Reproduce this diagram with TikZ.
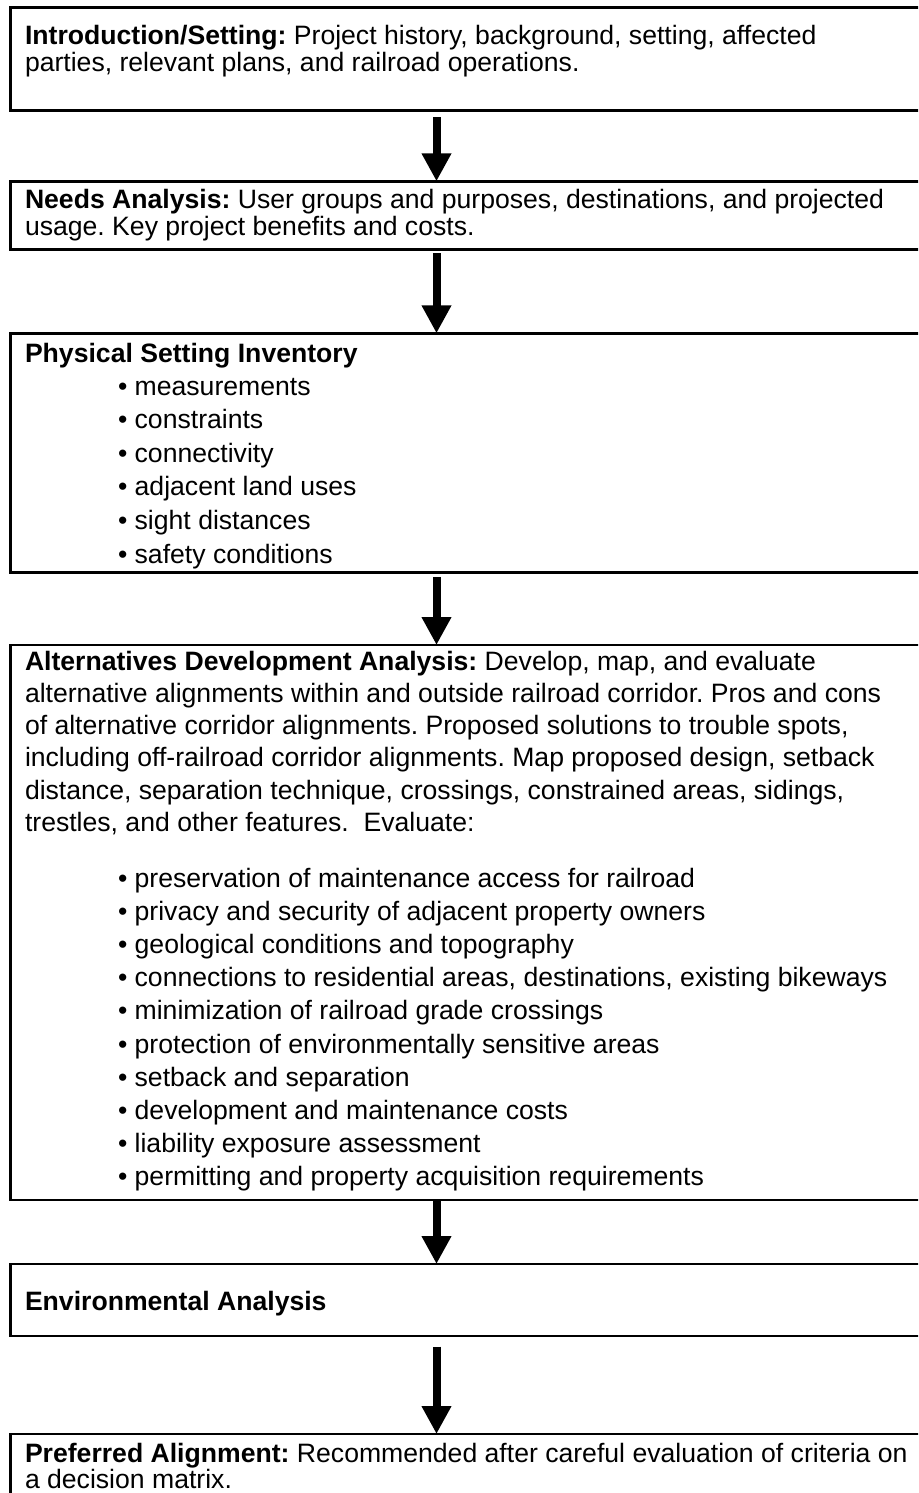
\documentclass[tikz,border=0pt]{standalone}
\usepackage{fontspec}
\setmainfont{Liberation Sans}
\usetikzlibrary{arrows.meta}
\frenchspacing
\newcommand{\firstln}{\rule{0pt}{22pt}}
\newcommand{\bul}{\textbullet\ }
\begin{document}
\begin{tikzpicture}[x=1pt,y=-1pt,
  boxshape/.style={draw, line width=2.5pt, rectangle, inner sep=0pt, outer sep=0pt,
    anchor=north west, minimum width=925pt},
  txt/.style={anchor=north west, inner sep=0pt, outer sep=0pt, align=left},
  tight/.style={txt, font=\frenchspacing\fontsize{26.6}{27}\selectfont},
  loose/.style={txt, font=\frenchspacing\fontsize{26.6}{33.6}\selectfont},
  para/.style={txt, font=\frenchspacing\fontsize{26.6}{32.3}\selectfont},
  bigarrow/.style={line width=8pt, -{Triangle[width=28pt,length=28pt]}}]
\useasboundingbox (0,0) rectangle (918,1493);
\fill[white] (0,0) rectangle (918,1493);
\clip (0,0) rectangle (918,1493);

% boxes
\node[boxshape, minimum height=103.4pt] (b1) at (10.5,7.3) {};
\node[boxshape, minimum height=68pt]    (b2) at (10.5,181.3) {};
\node[boxshape, minimum height=239.2pt] (b3) at (10.5,333.3) {};
\node[boxshape, minimum height=555pt]   (b4) at (10.5,645) {};
\node[boxshape, minimum height=72pt]    (b5) at (10.5,1264) {};
\node[boxshape, minimum height=100pt]   (b6) at (10.5,1434) {};

% texts
\node[tight] (t1) at (25,23) {\firstln\textbf{Introduction/Setting:} Project history, background, setting, affected\\
parties, relevant plans, and railroad operations.};
\node[tight] (t2) at (25,186) {\firstln\textbf{Needs Analysis:} User groups and purposes, destinations, and projected\\
usage. Key project benefits and costs.};
\node[tight] (t3) at (25,340) {\firstln\textbf{Physical Setting Inventory}};
\node[loose] (t3b) at (118,373) {\firstln\bul measurements\\
\bul constraints\\
\bul connectivity\\
\bul adjacent land uses\\
\bul sight distances\\
\bul safety conditions};
\node[para] (t4) at (25,648) {\firstln\textbf{Alternatives Development Analysis:} Develop, map, and evaluate\\
alternative alignments within and outside railroad corridor. Pros and cons\\
of alternative corridor alignments. Proposed solutions to trouble spots,\\
including off-railroad corridor alignments. Map proposed design, setback\\
distance, separation technique, crossings, constrained areas, sidings,\\
trestles, and other features.\ \ Evaluate:};
\node[txt, font=\frenchspacing\fontsize{26.6}{33.2}\selectfont] (t4b) at (118,865) {\firstln\bul preservation of maintenance access for railroad\\
\bul privacy and security of adjacent property owners\\
\bul geological conditions and topography\\
\bul connections to residential areas, destinations, existing bikeways\\
\bul minimization of railroad grade crossings\\
\bul protection of environmentally sensitive areas\\
\bul setback and separation\\
\bul development and maintenance costs\\
\bul liability exposure assessment\\
\bul permitting and property acquisition requirements};
\node[tight] (t5) at (25,1288) {\firstln\textbf{Environmental Analysis}};
\node[txt, font=\frenchspacing\fontsize{26.6}{26}\selectfont] (t6) at (25,1440) {\firstln\textbf{Preferred Alignment:} Recommended after careful evaluation of criteria on\\
a decision matrix.};

% arrows
\coordinate (ax) at (436.5,0);
\draw[bigarrow] ([yshift=-6.6pt]b1.south -| ax) -- (b2.north -| ax);
\draw[bigarrow] ([yshift=-4pt]b2.south -| ax) -- (b3.north -| ax);
\draw[bigarrow] ([yshift=-4.4pt]b3.south -| ax) -- (b4.north -| ax);
\draw[bigarrow] (b4.south -| ax) -- (b5.north -| ax);
\draw[bigarrow] ([yshift=-10.7pt]b5.south -| ax) -- (b6.north -| ax);
\end{tikzpicture}
\end{document}
